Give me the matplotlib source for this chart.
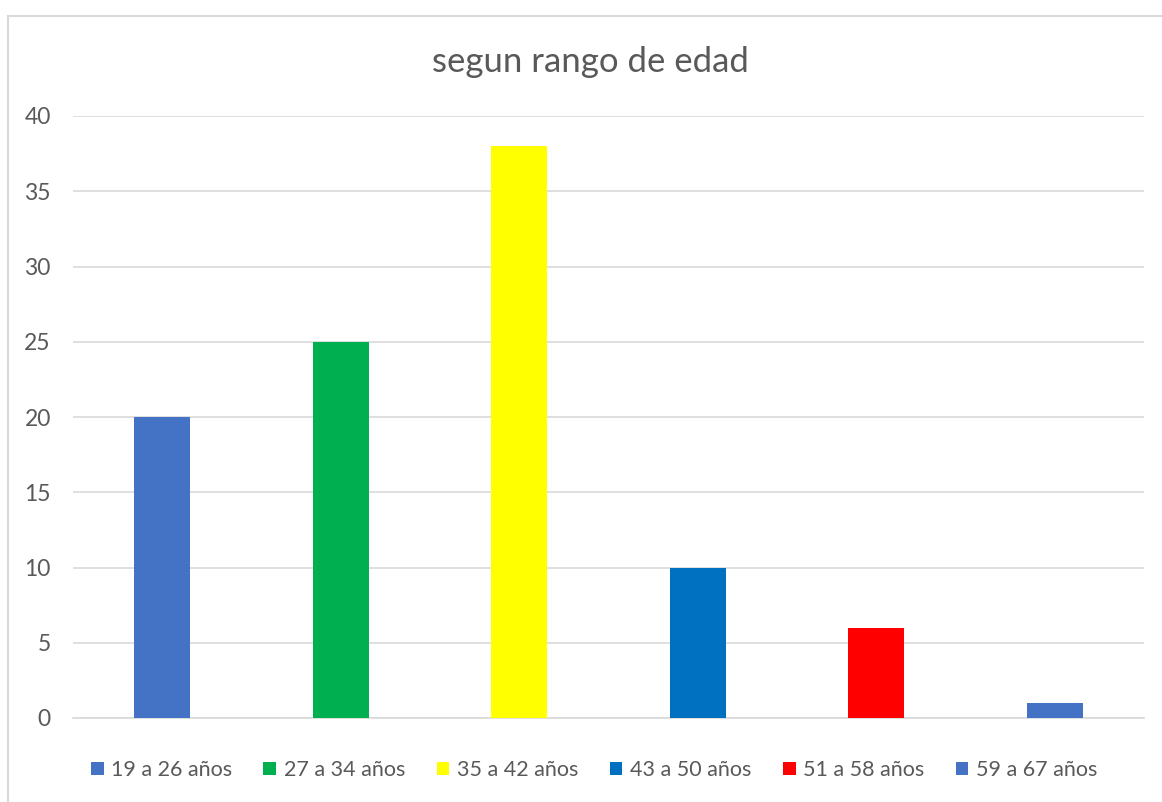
import numpy as np
import matplotlib.pyplot as plt
from matplotlib.lines import Line2D
from matplotlib.patches import Patch

# datos
categorias = ["19 a 26 años", "27 a 34 años", "35 a 42 años",
              "43 a 50 años", "51 a 58 años", "59 a 67 años"]
valores = [20, 25, 38, 10, 6, 1]
colores = ["#4472C4", "#00B050", "#FFFF00", "#0070C0", "#FF0000", "#4472C4"]
yticks = [0, 5, 10, 15, 20, 25, 30, 35, 40]

plt.rcParams['font.family'] = ['Lato', 'DejaVu Sans']
grey = "#595959"

fig = plt.figure(figsize=(11.62, 8.02), dpi=100)
ax = fig.add_axes([73/1162, 1-718/802, (1144-73)/1162, (718-116)/802])

x = np.arange(len(valores))
for i in range(len(valores)):
    ax.bar(x[i], valores[i], width=0.314, color=colores[i], label=categorias[i], zorder=3)

ax.set_xlim(-0.5, len(valores)-0.5)
ax.set_ylim(0, 40)
ax.set_yticks(yticks)
ax.set_xticks([])
ax.grid(axis="y", color="#d9d9d9", linewidth=1.2, zorder=0)
for s in ["top", "right", "left"]:
    ax.spines[s].set_visible(False)
ax.spines["bottom"].set_color("#d9d9d9")
ax.spines["bottom"].set_linewidth(1.2)
ax.tick_params(axis="y", length=0, pad=16, labelsize=16.5, labelcolor=grey)

fig.text(590/1162, 1-62/802, "segun rango de edad", ha="center", va="center",
         fontsize=25, color=grey)

handles = [Patch(facecolor=c, edgecolor="none") for c in colores]
fig.legend(handles, categorias, loc="center", bbox_to_anchor=(594/1162, 1-770/802),
           ncol=6, frameon=False, fontsize=15.5, labelcolor=grey,
           handlelength=0.6, handleheight=0.6, handletextpad=0.35, columnspacing=1.45)

# borde del area del grafico
fig.add_artist(Line2D([8/1162, 8/1162], [0, 1-16/802], color="#d9d9d9", linewidth=1.5))
fig.add_artist(Line2D([8/1162, 1], [1-16/802, 1-16/802], color="#d9d9d9", linewidth=1.5))

fig.savefig("out.png", dpi=100, facecolor="white")
